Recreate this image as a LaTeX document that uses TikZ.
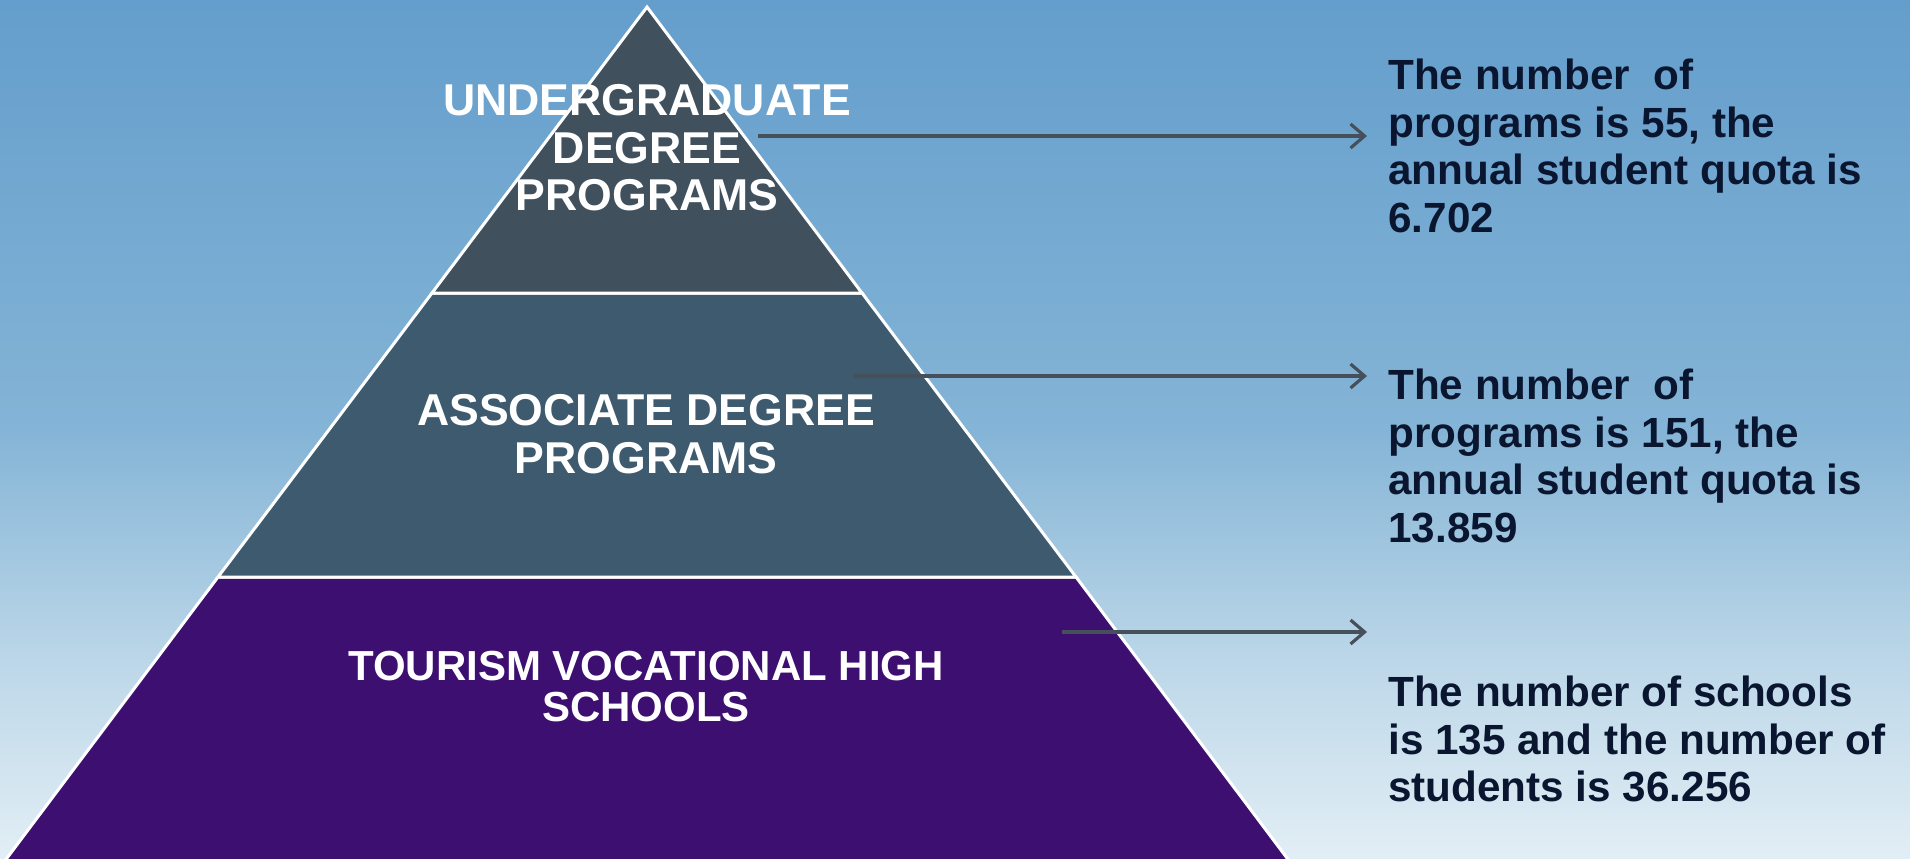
\documentclass[tikz,border=0pt]{standalone}
\usepackage{fontspec}
\setmainfont{Liberation Sans}
\usetikzlibrary{arrows.meta}
\definecolor{skytop}{RGB}{100,158,204}
\definecolor{skymid}{RGB}{132,180,214}
\definecolor{skylow}{RGB}{190,216,233}
\definecolor{skybot}{RGB}{226,238,245}
\definecolor{tiertop}{RGB}{64,80,93}
\definecolor{tiermid}{RGB}{61,90,111}
\definecolor{tierbot}{RGB}{60,15,112}
\definecolor{infotext}{RGB}{10,22,48}
\definecolor{arrowgray}{RGB}{70,80,90}
\pgfdeclareverticalshading{sky}{100bp}{color(0bp)=(skybot); color(25bp)=(skybot);
  color(36bp)=(skylow); color(50bp)=(skymid); color(75bp)=(skytop); color(100bp)=(skytop)}

\begin{document}
\begin{tikzpicture}[x=0.5pt,y=-0.5pt,
    tier/.style={draw=white,line width=1.5pt},
    level/.style={text=white,font=\bfseries\fontsize{22.3}{23.8}\selectfont,align=center,inner sep=0},
    info/.style={text=infotext,font=\bfseries\fontsize{21.1}{23.8}\selectfont,align=left,anchor=west,inner sep=0},
    pointer/.style={draw=arrowgray,line width=1.6pt,-{Straight Barb[length=7pt,width=12pt]}}]
        \useasboundingbox (0,0) rectangle (1910,858);
        \shade[shading=sky] (0,0) rectangle (1910,858);
        % pyramid
        \begin{scope}
          \clip (0,0) rectangle (1910,858);
          \filldraw[tier,fill=tierbot] (218,577) -- (1076,577) -- (1296,870) -- (-2,870) -- cycle;
          \filldraw[tier,fill=tiermid] (432,293) -- (862,293) -- (1076,577) -- (218,577) -- cycle;
          \filldraw[tier,fill=tiertop] (647,7) -- (862,293) -- (432,293) -- cycle;
        \end{scope}
        \node[level] (ug) at (647,148) {UNDERGRADUATE\\DEGREE\\PROGRAMS};
        \node[level] (ad) at (646,434) {ASSOCIATE DEGREE\\PROGRAMS};
        \node[level,font=\bfseries\fontsize{21}{20.5}\selectfont] (tv) at (646,687) {TOURISM VOCATIONAL HIGH\\SCHOOLS};
        % numbers
        \node[info] (ug-info) at (1388,146) {The number\ \ of\\programs is 55, the\\annual student quota is\\6.702};
        \node[info] (ad-info) at (1388,456) {The number\ \ of\\programs is 151, the\\annual student quota is\\13.859};
        \node[info] (tv-info) at (1388,739) {The number of schools\\is 135 and the number of\\students is 36.256};
        \coordinate (ug-from) at (758,136);
        \coordinate (ug-to) at (1367,136);
        \coordinate (ad-from) at (853,376);
        \coordinate (ad-to) at (1367,376);
        \coordinate (tv-from) at (1062,632);
        \coordinate (tv-to) at (1367,632);
        \draw[pointer] (ug-from) -- (ug-to);
        \draw[pointer] (ad-from) -- (ad-to);
        \draw[pointer] (tv-from) -- (tv-to);
      \end{tikzpicture}
\end{document}
